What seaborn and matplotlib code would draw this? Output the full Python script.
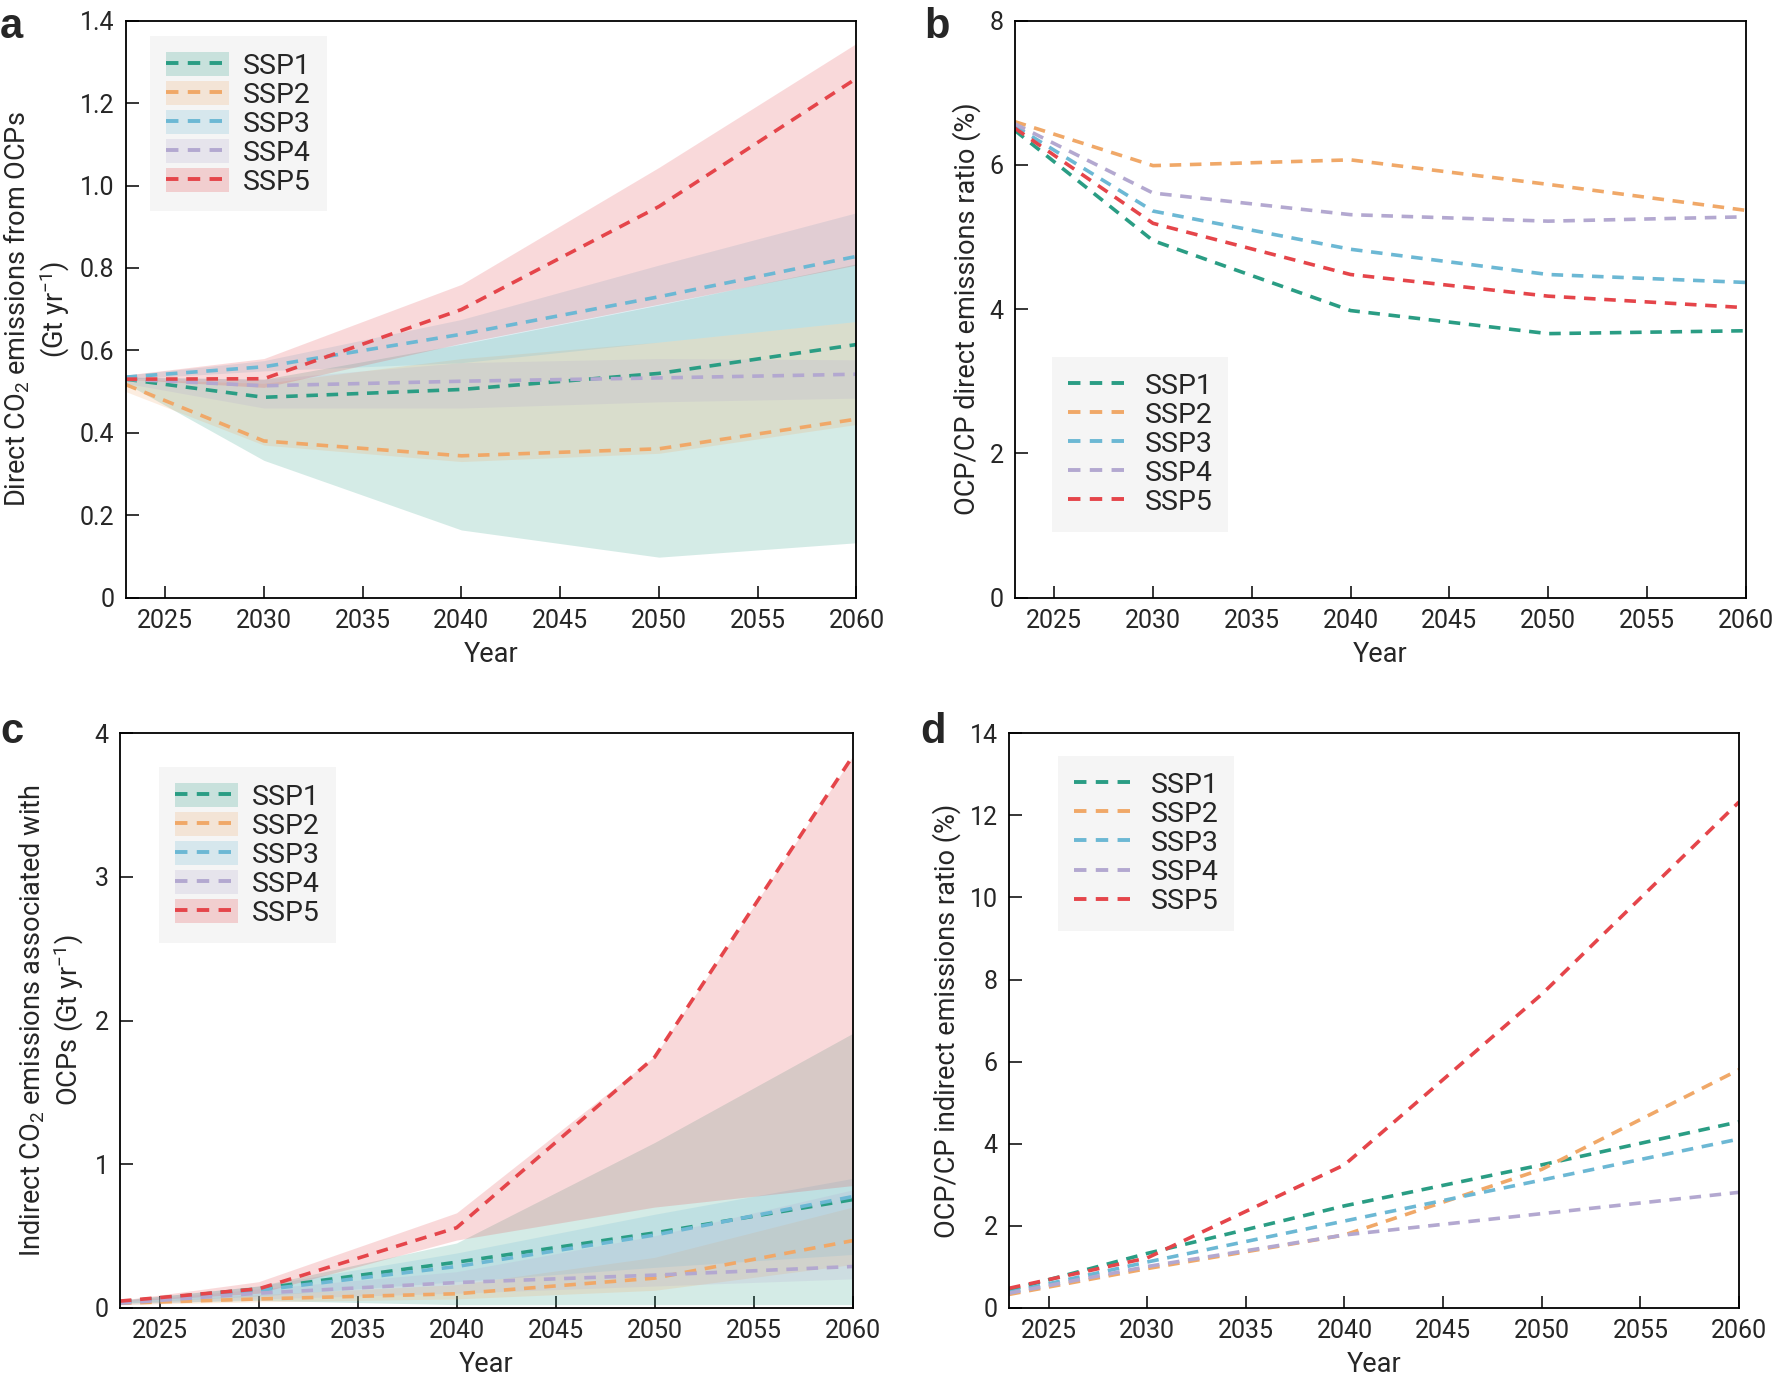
import pandas as pd
import seaborn as sns
import matplotlib.pyplot as plt
from matplotlib.lines import Line2D
from matplotlib.patches import Patch
from matplotlib.ticker import FuncFormatter

years = [2023, 2030, 2040, 2050, 2060]
scenarios = ["SSP1", "SSP2", "SSP3", "SSP4", "SSP5"]
colors = ["#2a9d84", "#f0a868", "#6cb8d4", "#b3a8d0", "#e5454a"]

# a: direct CO2 emissions from OCPs (Gt/yr)
direct_mean = {
    "SSP1": [0.53, 0.486, 0.505, 0.544, 0.614],
    "SSP2": [0.517, 0.380, 0.344, 0.361, 0.433],
    "SSP3": [0.535, 0.560, 0.639, 0.730, 0.828],
    "SSP4": [0.530, 0.514, 0.525, 0.533, 0.542],
    "SSP5": [0.530, 0.531, 0.699, 0.949, 1.260],
}
direct_low = {
    "SSP1": [0.52, 0.333, 0.164, 0.098, 0.133],
    "SSP2": [0.50, 0.37, 0.33, 0.35, 0.42],
    "SSP3": [0.53, 0.55, 0.57, 0.62, 0.67],
    "SSP4": [0.52, 0.46, 0.46, 0.475, 0.484],
    "SSP5": [0.53, 0.51, 0.617, 0.712, 0.807],
}
direct_high = {
    "SSP1": [0.535, 0.53, 0.615, 0.71, 0.81],
    "SSP2": [0.53, 0.52, 0.58, 0.62, 0.67],
    "SSP3": [0.54, 0.575, 0.675, 0.807, 0.934],
    "SSP4": [0.535, 0.53, 0.57, 0.58, 0.577],
    "SSP5": [0.54, 0.58, 0.76, 1.044, 1.345],
}

# b: OCP/CP direct emissions ratio (%)
direct_ratio = {
    "SSP1": [6.48, 4.95, 3.98, 3.66, 3.70],
    "SSP2": [6.60, 5.99, 6.07, 5.73, 5.37],
    "SSP3": [6.54, 5.36, 4.83, 4.48, 4.37],
    "SSP4": [6.57, 5.61, 5.31, 5.22, 5.28],
    "SSP5": [6.51, 5.19, 4.48, 4.18, 4.02],
}

# c: indirect CO2 emissions associated with OCPs (Gt/yr)
indirect_mean = {
    "SSP1": [0.04, 0.13, 0.316, 0.52, 0.752],
    "SSP2": [0.03, 0.06, 0.096, 0.205, 0.466],
    "SSP3": [0.04, 0.12, 0.286, 0.505, 0.773],
    "SSP4": [0.03, 0.10, 0.174, 0.226, 0.286],
    "SSP5": [0.045, 0.13, 0.556, 1.744, 3.84],
}
indirect_low = {
    "SSP1": [0.03, 0.05, 0.02, 0.02, 0.02],
    "SSP2": [0.02, 0.04, 0.06, 0.12, 0.30],
    "SSP3": [0.03, 0.08, 0.18, 0.28, 0.37],
    "SSP4": [0.02, 0.06, 0.10, 0.15, 0.20],
    "SSP5": [0.04, 0.10, 0.47, 0.70, 0.85],
}
indirect_high = {
    "SSP1": [0.05, 0.15, 0.45, 1.15, 1.91],
    "SSP2": [0.04, 0.09, 0.16, 0.35, 0.70],
    "SSP3": [0.05, 0.15, 0.38, 0.65, 0.90],
    "SSP4": [0.04, 0.13, 0.25, 0.50, 0.82],
    "SSP5": [0.05, 0.18, 0.66, 1.75, 3.84],
}

# d: OCP/CP indirect emissions ratio (%)
indirect_ratio = {
    "SSP1": [0.42, 1.32, 2.48, 3.48, 4.53],
    "SSP2": [0.32, 0.95, 1.77, 3.37, 5.80],
    "SSP3": [0.37, 1.11, 2.11, 3.11, 4.11],
    "SSP4": [0.35, 1.00, 1.77, 2.29, 2.81],
    "SSP5": [0.47, 1.21, 3.48, 7.64, 12.33],
}

sns.set_style("ticks")
plt.rcParams["font.family"] = ["Roboto", "DejaVu Sans"]
plt.rcParams["mathtext.default"] = "regular"
plt.rcParams["axes.linewidth"] = 1.3

palette = dict(zip(scenarios, colors))
DASH = (0, (3.2, 2.4))


def to_long(d):
    rows = []
    for s in scenarios:
        for y, v in zip(years, d[s]):
            rows.append({"Year": y, "value": v, "scenario": s})
    return pd.DataFrame(rows)


def style_axis(ax, ymax, yticks, ylabel, fmt):
    ax.set_xlim(2023, 2060)
    ax.set_ylim(0, ymax)
    ax.set_xticks(range(2025, 2061, 5))
    ax.set_yticks(yticks)
    ax.yaxis.set_major_formatter(FuncFormatter(fmt))
    ax.tick_params(direction="in", length=9, width=1.3, labelsize=18, pad=8)
    ax.set_xlabel("Year", fontsize=19.5, labelpad=6)
    ax.set_ylabel(ylabel, fontsize=19.5, labelpad=6)
    for sp in ax.spines.values():
        sp.set_visible(True)
        sp.set_color("black")


def add_legend(ax, with_band, **kw):
    handles = []
    for c in colors:
        ln = Line2D([], [], color=c, ls=DASH, lw=2.8)
        if with_band:
            handles.append((Patch(facecolor=c, alpha=0.22, edgecolor="none"), ln))
        else:
            handles.append(ln)
    leg = ax.legend(handles, scenarios, fontsize=20.5, handlelength=2.2, handleheight=0.9,
                    labelspacing=0.05, borderpad=0.55, borderaxespad=0, handletextpad=0.5,
                    fancybox=False, frameon=True, framealpha=1, **kw)
    leg.get_frame().set_facecolor("#f5f5f5")
    leg.get_frame().set_edgecolor("none")


def draw_lines(ax, d):
    df = to_long(d)
    sns.lineplot(data=df, x="Year", y="value", hue="scenario", palette=palette,
                 ax=ax, lw=2.6, legend=False)
    for ln in ax.get_lines():
        ln.set_linestyle(DASH)


fig = plt.figure(figsize=(17.74, 13.8), dpi=100)
ax_a = fig.add_axes([0.0708, 0.567, 0.412, 0.418])
ax_b = fig.add_axes([0.572, 0.567, 0.412, 0.418])
ax_c = fig.add_axes([0.0676, 0.0525, 0.413, 0.416])
ax_d = fig.add_axes([0.5688, 0.0525, 0.4115, 0.416])

# panel a
for s, c in zip(scenarios, colors):
    ax_a.fill_between(years, direct_low[s], direct_high[s], color=c, alpha=0.2, lw=0)
draw_lines(ax_a, direct_mean)
style_axis(ax_a, 1.4, [0, 0.2, 0.4, 0.6, 0.8, 1.0, 1.2, 1.4],
           "Direct CO$_2$ emissions from OCPs\n(Gt yr$^{-1}$)",
           lambda v, p: "0" if v == 0 else f"{v:.1f}")
add_legend(ax_a, True, loc="upper left", bbox_to_anchor=(0.034, 0.973))

# panel b
draw_lines(ax_b, direct_ratio)
style_axis(ax_b, 8, [0, 2, 4, 6, 8], "OCP/CP direct emissions ratio (%)",
           lambda v, p: f"{v:g}")
add_legend(ax_b, False, loc="lower left", bbox_to_anchor=(0.051, 0.114))

# panel c
for s, c in zip(scenarios, colors):
    ax_c.fill_between(years, indirect_low[s], indirect_high[s], color=c, alpha=0.2, lw=0)
draw_lines(ax_c, indirect_mean)
style_axis(ax_c, 4, [0, 1, 2, 3, 4],
           "Indirect CO$_2$ emissions associated with\nOCPs (Gt yr$^{-1}$)",
           lambda v, p: f"{v:g}")
add_legend(ax_c, True, loc="upper left", bbox_to_anchor=(0.054, 0.941))

# panel d
draw_lines(ax_d, indirect_ratio)
style_axis(ax_d, 14, [0, 2, 4, 6, 8, 10, 12, 14], "OCP/CP indirect emissions ratio (%)",
           lambda v, p: f"{v:g}")
add_legend(ax_d, False, loc="upper left", bbox_to_anchor=(0.067, 0.961))

for lab, x, y in [("a", 0.0, 0.995), ("b", 0.521, 0.995), ("c", 0.0, 0.484), ("d", 0.519, 0.484)]:
    fig.text(x, y, lab, fontsize=30, fontweight="heavy", va="top", ha="left",
             family=["Liberation Sans", "DejaVu Sans"])

fig.savefig("out.png", dpi=100)
